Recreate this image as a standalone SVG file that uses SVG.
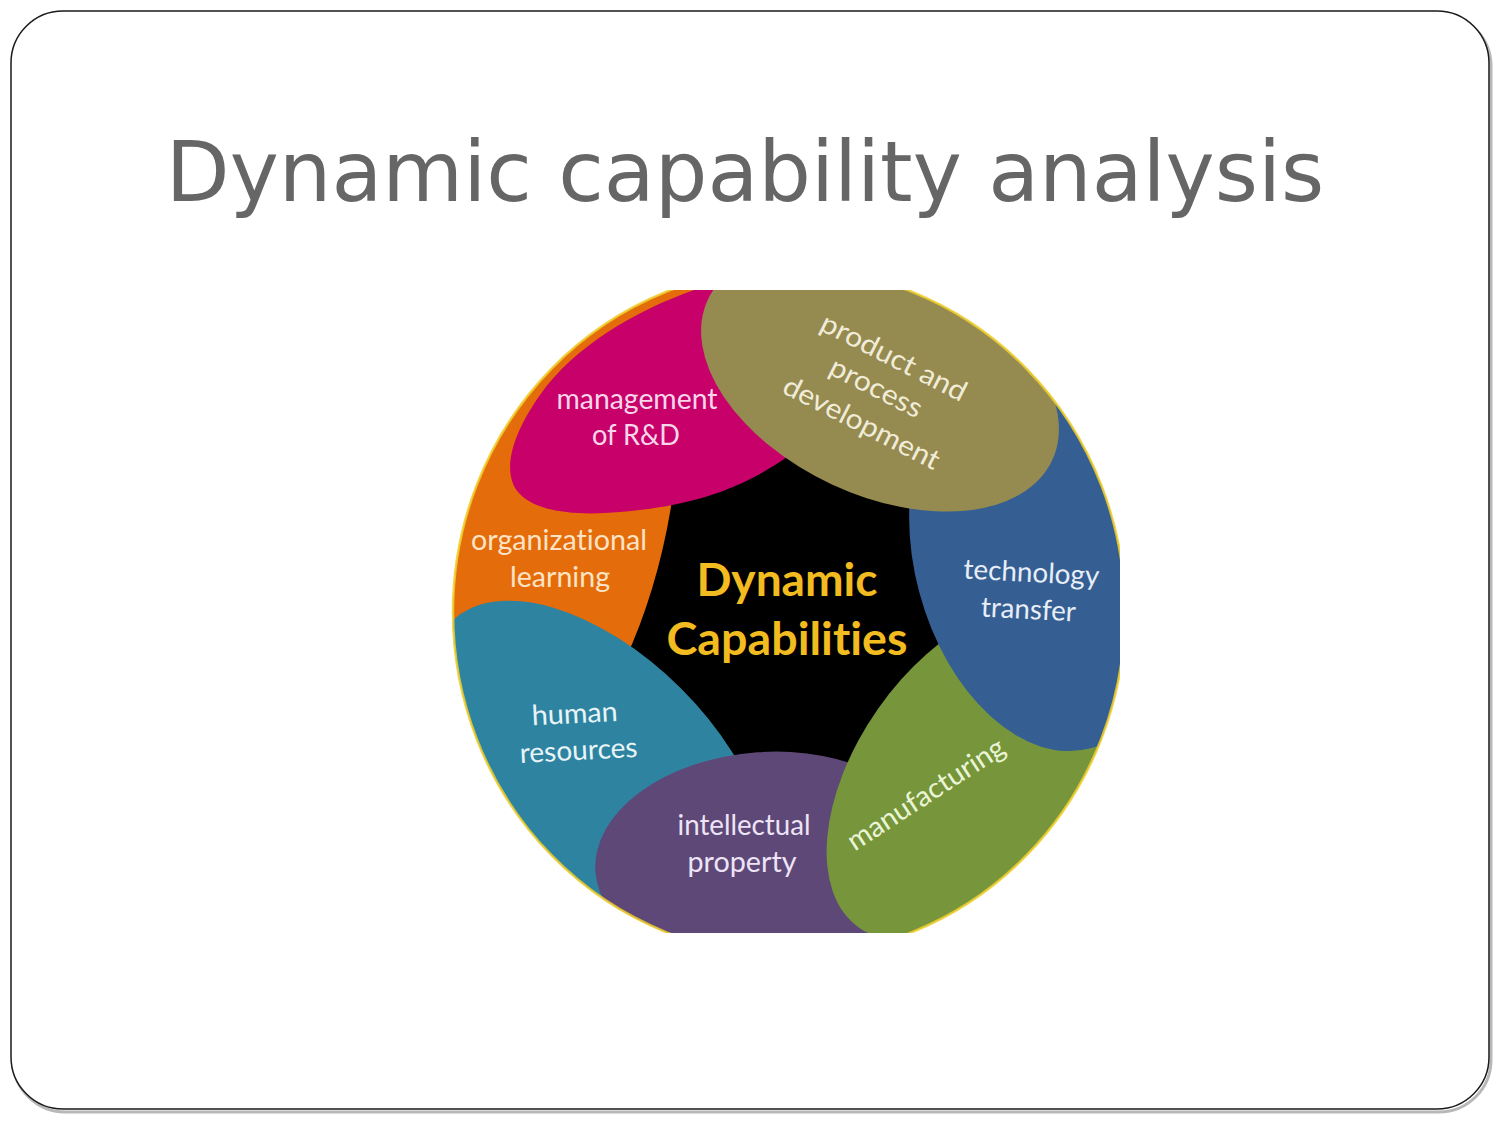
<svg xmlns="http://www.w3.org/2000/svg" width="1500" height="1125" viewBox="0 0 1500 1125">
<style>
.lbl{font-family:Lato,"Liberation Sans",sans-serif;font-size:28px;text-anchor:middle;font-variant-ligatures:none;font-feature-settings:"liga" 0}
.core{font-family:Lato,"Liberation Sans",sans-serif;font-weight:bold;font-size:46px;text-anchor:middle;fill:#f2bb1f;font-variant-ligatures:none;font-feature-settings:"liga" 0}
.title{font-family:"DejaVu Sans",sans-serif;font-size:83px;fill:#666666;text-anchor:middle}
</style>
<defs>
<clipPath id="frame"><rect x="440" y="290" width="680" height="643"/></clipPath>
<clipPath id="disc"><ellipse cx="789" cy="612" rx="336" ry="344"/></clipPath>
</defs>
<rect width="1500" height="1125" fill="#ffffff"/>
<g id="slide-frame">
<rect x="13" y="14" width="1478" height="1098" rx="52" fill="none" stroke="#b8b8b8" stroke-width="3"/>
<rect x="11" y="11" width="1478" height="1098" rx="52" fill="#ffffff" stroke="#1a1a1a" stroke-width="1.5"/>
</g>
<text id="title" class="title" x="745" y="201">Dynamic capability analysis</text>
<g id="wheel" clip-path="url(#frame)">
<g clip-path="url(#disc)">
<g id="organizational-learning">
<rect x="430" y="260" width="710" height="710" fill="#e46c0a"/>
</g>
<g id="dynamic-capabilities">
<path d="M 675 480 Q 662 580 625 660 L 700 800 L 900 800 L 1000 650 L 960 450 L 780 420 Z" fill="#000000"/>
</g>
<g id="management-rd">
<path d="M 700 270 L 700 288 C 640 308 575 345 540 395 C 515 430 500 470 518 492 C 535 512 575 516 620 512 C 690 506 740 490 787 457 L 812 440 L 800 270 Z" fill="#c8006a"/>
</g>
<g id="human-resources">
<ellipse cx="0" cy="0" rx="210" ry="115" transform="translate(600 770) rotate(45)" fill="#2e84a0"/>
</g>
<g id="intellectual-property">
<ellipse cx="0" cy="0" rx="170" ry="108" transform="translate(765 860) rotate(-4)" fill="#5e4878"/>
</g>
<g id="manufacturing">
<ellipse cx="0" cy="0" rx="190" ry="110" transform="translate(968 772) rotate(-55)" fill="#77953b"/>
</g>
<g id="technology-transfer">
<ellipse cx="0" cy="0" rx="125" ry="195" transform="translate(1040 560) rotate(-15)" fill="#355f93"/>
</g>
<g id="product-process-development">
<ellipse cx="0" cy="0" rx="190" ry="115" transform="translate(880 380) rotate(25)" fill="#958a50"/>
</g>
</g>
<ellipse cx="789" cy="612" rx="336" ry="344" fill="none" stroke="#efcf2c" stroke-width="2.5" opacity="0.85"/>
</g>
<g id="labels">
<text class="lbl" fill="#f7d6ea" x="637" y="409" textLength="161" lengthAdjust="spacingAndGlyphs">management</text>
<text class="lbl" fill="#f7d6ea" x="636" y="445" textLength="88" lengthAdjust="spacingAndGlyphs">of R&amp;D</text>
<g transform="translate(876 388) rotate(27)">
<text class="lbl" fill="#f1ecd8" x="2" y="-26" textLength="160" lengthAdjust="spacingAndGlyphs">product and</text>
<text class="lbl" fill="#f1ecd8" x="0" y="9" textLength="100" lengthAdjust="spacingAndGlyphs">process</text>
<text class="lbl" fill="#f1ecd8" x="3" y="47" textLength="172" lengthAdjust="spacingAndGlyphs">development</text>
</g>
<text class="lbl" fill="#fce3c6" x="559" y="550" textLength="176" lengthAdjust="spacingAndGlyphs">organizational</text>
<text class="lbl" fill="#fce3c6" x="560" y="587" textLength="100" lengthAdjust="spacingAndGlyphs">learning</text>
<text class="core" x="787" y="596" textLength="181" lengthAdjust="spacingAndGlyphs">Dynamic</text>
<text class="core" x="787" y="655" textLength="241" lengthAdjust="spacingAndGlyphs">Capabilities</text>
<g transform="rotate(3 1030 600)">
<text class="lbl" fill="#e8eef8" x="1030" y="582" textLength="136" lengthAdjust="spacingAndGlyphs">technology</text>
<text class="lbl" fill="#e8eef8" x="1029" y="619" textLength="95" lengthAdjust="spacingAndGlyphs">transfer</text>
</g>
<g transform="rotate(-3 577 740)">
<text class="lbl" fill="#e8f4f8" x="576" y="723" textLength="86" lengthAdjust="spacingAndGlyphs">human</text>
<text class="lbl" fill="#e8f4f8" x="578" y="760" textLength="118" lengthAdjust="spacingAndGlyphs">resources</text>
</g>
<text class="lbl" fill="#ede4f5" x="744" y="835" textLength="133" lengthAdjust="spacingAndGlyphs">intellectual</text>
<text class="lbl" fill="#ede4f5" x="742" y="872" textLength="109" lengthAdjust="spacingAndGlyphs">property</text>
<g transform="translate(931 802) rotate(-33)">
<text class="lbl" fill="#eaf5d6" x="0" y="0" textLength="182" lengthAdjust="spacingAndGlyphs">manufacturing</text>
</g>
</g>
</svg>
